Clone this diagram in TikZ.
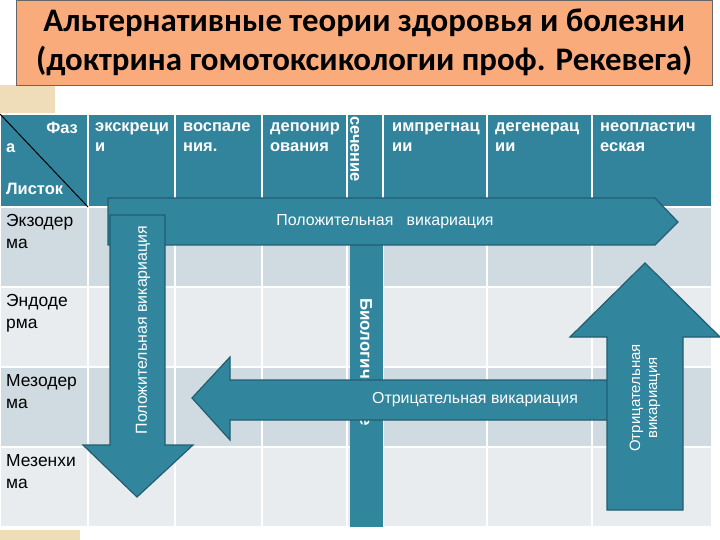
\documentclass[tikz,border=0pt]{standalone}
\usepackage{fontspec}
\setmainfont{Liberation Sans}
\newfontfamily\titlefont{Carlito}
\definecolor{hdr}{HTML}{31849B}
\definecolor{arr}{HTML}{31869E}
\definecolor{arrb}{HTML}{215E70}
\definecolor{rowA}{HTML}{D0DAE1}
\definecolor{rowB}{HTML}{E8ECEF}
\definecolor{peach}{HTML}{F9AB7C}
\definecolor{beige}{HTML}{EEDDB8}
\tikzset{
 cell/.style={draw=white,line width=1.2bp},
 hdrtxt/.style={text=white,font=\bfseries\fontsize{16.5}{21}\selectfont,align=left,anchor=north west,inner sep=0},
 rowtxt/.style={text=black,font=\fontsize{17.5}{22}\selectfont,align=left,anchor=north west,inner sep=0},
 arrow/.style={fill=arr,draw=arrb,line width=1.2bp},
 arrtxt/.style={text=white,font=\fontsize{16}{19}\selectfont,align=center,inner sep=0}
}
\begin{document}
\begin{tikzpicture}[x=1bp,y=-1bp]
\useasboundingbox (0,0) rectangle (720,540);
\fill[white] (0,0) rectangle (720,540);
\fill[beige] (0,85) rectangle (55,114);
\fill[beige] (0,530) rectangle (80,540);
\node[fill=peach,draw=black!60,minimum width=696bp,minimum height=85bp,anchor=north west,inner sep=0] (title) at (16,0) {};
\node[font=\titlefont\bfseries\fontsize{33}{39}\selectfont,align=center] (ttext) at (title.center) {Альтернативные теории здоровья и болезни\\(доктрина гомотоксикологии проф. Рекевега)};
% header
\fill[hdr] (0,114) rectangle (712,207);
\foreach \xa/\xb in {0/88,88/175,175/262,262/347,347/383,383/487,487/592,592/712}{
 \draw[cell] (\xa,114) rectangle (\xb,207);
 \fill[rowA] (\xa,207) rectangle (\xb,287); \draw[cell] (\xa,207) rectangle (\xb,287);
 \fill[rowB] (\xa,287) rectangle (\xb,367); \draw[cell] (\xa,287) rectangle (\xb,367);
 \fill[rowA] (\xa,367) rectangle (\xb,447); \draw[cell] (\xa,367) rectangle (\xb,447);
 \fill[rowB] (\xa,447) rectangle (\xb,527); \draw[cell] (\xa,447) rectangle (\xb,527);
}
\draw[black,line width=1bp] (0,114) -- (88,207);
\node[hdrtxt,anchor=north east] (faz) at (78,122) {Фаз};
\node[hdrtxt] (a) at (6,143) {а};
\node[hdrtxt] (list) at (6,183) {Листок};
\node[hdrtxt] (c1) at (95,122) {экскреци\\и};
\node[hdrtxt] (c2) at (183,122) {воспале\\ния.};
\node[hdrtxt] (c3) at (270,122) {депонир\\ования};
\node[hdrtxt,rotate=-90,anchor=south west] (c4) at (350,116) {сечение};
\node[hdrtxt] (c5) at (392,122) {импрегнац\\ии};
\node[hdrtxt] (c6) at (495,122) {дегенерац\\ии};
\node[hdrtxt] (c7) at (600,122) {неопластич\\еская};
\node[rowtxt] (r1) at (6,214) {Экзодер\\ма};
\node[rowtxt] (r2) at (6,294) {Эндоде\\рма};
\node[rowtxt] (r3) at (6,374) {Мезодер\\ма};
\node[rowtxt] (r4) at (6,454) {Мезенхи\\ма};
% biology bar
\fill[arr] (350,207) rectangle (383,527);
\node[text=white,font=\bfseries\fontsize{17}{19}\selectfont,rotate=-90] (bio) at (366,362) {Биологическое};
% positive horizontal
\draw[arrow] (108,198) -- (655,198) -- (678,222) -- (655,245) -- (108,245) -- cycle;
\node[arrtxt] (pt) at (385,222) {Положительная\ \ \ викариация};
% positive down
\draw[arrow] (110,215) -- (165,215) -- (165,445) -- (193,445) -- (137,497) -- (83,445) -- (110,445) -- cycle;
\node[arrtxt,rotate=90] (pv) at (143,330) {Положительная викариация};
% negative left
\draw[arrow] (612,380) -- (230,380) -- (230,357) -- (192,398) -- (230,440) -- (230,420) -- (612,420) -- cycle;
\node[arrtxt] (nt) at (475,400) {Отрицательная викариация};
% negative up
\draw[arrow] (607,510) -- (607,337) -- (570,337) -- (645,263) -- (720,337) -- (683,337) -- (683,510) -- cycle;
\node[arrtxt,rotate=90,font=\fontsize{15}{17}\selectfont] (nv) at (645,398) {Отрицательная\\викариация};
\end{tikzpicture}
\end{document}
